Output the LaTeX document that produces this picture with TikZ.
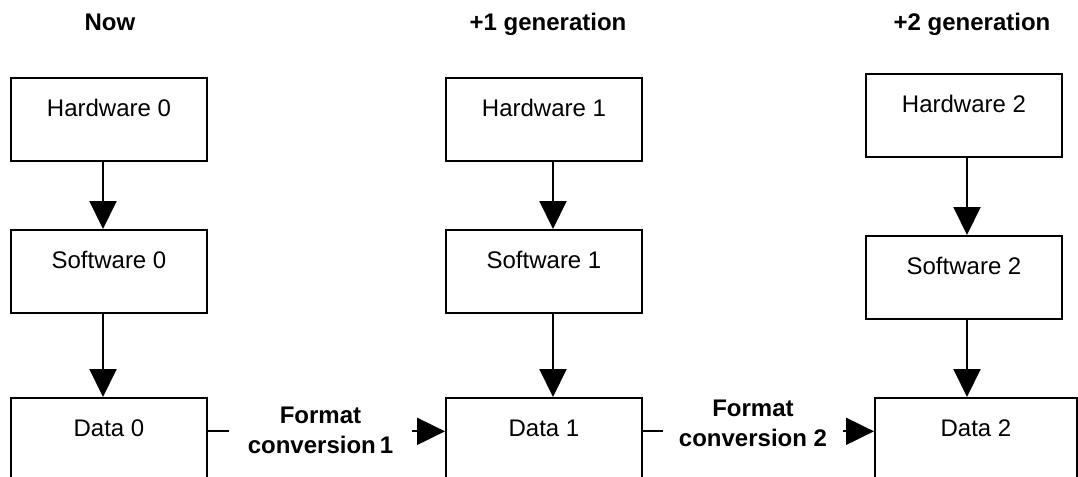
\documentclass[tikz,border=0pt]{standalone}
\usepackage{fontspec}
\setmainfont{Liberation Sans}
\usepackage{tikz}
\usetikzlibrary{arrows.meta, calc}

\begin{document}
\begin{tikzpicture}[x=0.5pt, y=-0.5pt,
		font=\fontsize{12}{15}\selectfont,
		gbox/.style = {draw, line width=1pt, minimum width=98pt, inner sep=0pt,
			text height=19.3pt, text depth=22.2pt, anchor=north},
		gtitle/.style = {font=\fontsize{12}{15}\selectfont\bfseries, anchor=base},
		conv/.style = {font=\fontsize{12}{15}\selectfont\bfseries, align=center, inner sep=0pt},
		flow/.style = {line width=1pt, -{Triangle[length=14pt, width=13.5pt]}}
	]

	\useasboundingbox (0,0) rectangle (1078,477);
	\clip (0,0) rectangle (1078,477);

	% column titles
	\node[gtitle] (t0) at (110,30) {Now};
	\node[gtitle] (t1) at (548,30) {+1 generation};
	\node[gtitle] (t2) at (972,30) {+2 generation};

	% boxes
	\node[gbox] (hw0) at (109,77) {Hardware 0};
	\node[gbox] (sw0) at (109,229) {Software 0};
	\node[gbox] (d0) at (109,397) {Data 0};

	\node[gbox] (hw1) at (544,77) {Hardware 1};
	\node[gbox] (sw1) at (544,229) {Software 1};
	\node[gbox] (d1) at (544,397) {Data 1};

	\node[gbox] (hw2) at (964,73) {Hardware 2};
	\node[gbox] (sw2) at (964,235) {Software 2};
	\node[gbox, minimum width=101pt] (d2) at (976,397) {Data 2};

	\node[conv, minimum width=91.5pt] (fc1) at (320.5,430) {Format\\conversion\,1};
	\node[conv, minimum width=90pt] (fc2) at (753,423) {Format\\conversion 2};

	% vertical arrows
	\draw[flow] ($(hw0.south)+(-6,0)$) -- ($(sw0.north)+(-6,0)$);
	\draw[flow] ($(sw0.south)+(-6,0)$) -- ($(d0.north)+(-6,0)$);
	\draw[flow] ($(hw1.south)+(9,0)$) -- ($(sw1.north)+(9,0)$);
	\draw[flow] ($(sw1.south)+(9,0)$) -- ($(d1.north)+(9,0)$);
	\draw[flow] ($(hw2.south)+(3,0)$) -- ($(sw2.north)+(3,0)$);
	\draw[flow] ($(sw2.south)+(3,0)$) -- ($(d2.north)+(-9,0)$);

	% format conversions
	\draw[line width=1pt] (d0.mid east) -- (d0.mid east -| fc1.west);
	\draw[flow] (fc1.east |- d1.mid west) -- (d1.mid west);
	\draw[line width=1pt] (d1.mid east) -- (d1.mid east -| fc2.west);
	\draw[flow] (fc2.east |- d2.mid west) -- (d2.mid west);

\end{tikzpicture}
\end{document}
